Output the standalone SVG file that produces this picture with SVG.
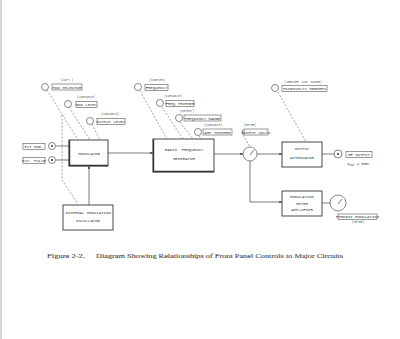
<svg xmlns="http://www.w3.org/2000/svg" width="400" height="339" viewBox="0 0 400 339">
<style>
.blk{fill:#fff;stroke:#333;stroke-width:0.9}
.lbl{fill:#fff;stroke:#555;stroke-width:0.6}
.knob{fill:#fff;stroke:#555;stroke-width:0.7}
.ln{fill:none;stroke:#444;stroke-width:0.7}
.dash{fill:none;stroke:#666;stroke-width:0.6;stroke-dasharray:2 1.6}
.t{font-family:"Liberation Mono","DejaVu Sans Mono",monospace;fill:#333;text-anchor:middle}
.s{font-size:4px}
.xs{font-size:3px;fill:#666}
.cap{font-family:"Liberation Serif","DejaVu Serif",serif;font-size:7px;fill:#555;stroke:#555;stroke-width:0.15}
</style>
<defs>
<marker id="ar" viewBox="0 0 6 6" refX="6" refY="3" markerWidth="4" markerHeight="4" orient="auto"><path d="M0,0 L6,3 L0,6 z" fill="#444"/></marker>
</defs>
<rect width="400" height="339" fill="#fff"/>
<line x1="1" y1="0" x2="1" y2="339" stroke="#ccc" stroke-width="1.5"/>

<g id="connectors">
<line class="ln" x1="108" y1="153" x2="153" y2="153" marker-end="url(#ar)"/>
<line class="ln" x1="89" y1="205" x2="89" y2="166" marker-end="url(#ar)"/>
<line class="ln" x1="55.5" y1="146" x2="69" y2="146"/>
<line class="ln" x1="55.5" y1="160" x2="69" y2="160"/>
<line class="ln" x1="214" y1="154" x2="243" y2="154" marker-end="url(#ar)"/>
<line class="ln" x1="257" y1="154" x2="282" y2="154" marker-end="url(#ar)"/>
<polyline class="ln" points="250,161 250,202 282,202" marker-end="url(#ar)"/>
<line class="ln" x1="322" y1="154" x2="334" y2="154"/>
<line class="ln" x1="322" y1="203" x2="330" y2="203"/>
<line class="dash" x1="47" y1="90" x2="78" y2="140"/>
<polyline class="dash" points="62,115 62,180 78,204"/>
<line class="dash" x1="69" y1="107" x2="90" y2="140"/>
<line class="dash" x1="92" y1="124" x2="100" y2="140"/>
<line class="dash" x1="140" y1="91" x2="167" y2="139"/>
<line class="dash" x1="162" y1="107" x2="183" y2="139"/>
<line class="dash" x1="180" y1="122" x2="193" y2="139"/>
<line class="dash" x1="199" y1="136" x2="202" y2="139"/>
<line class="dash" x1="243" y1="135" x2="250" y2="147"/>
<line class="dash" x1="278" y1="92" x2="306" y2="142"/>
</g>

<g id="mod-selector">
<circle class="knob" cx="45" cy="87" r="3.5"/>
<rect class="lbl" x="52" y="84" width="30" height="6"/>
<text class="t s" x="67" y="88.5">MOD SELECTOR</text>
<text class="t xs" x="67" y="81">(CAPY.)</text>
</g>
<g id="mod-level">
<circle class="knob" cx="68" cy="104" r="3.5"/>
<rect class="lbl" x="76" y="101.5" width="21" height="6"/>
<text class="t s" x="86.5" y="106">MOD LEVEL</text>
<text class="t xs" x="86" y="98">(VARIABLE)</text>
</g>
<g id="output-level">
<circle class="knob" cx="90" cy="121" r="3.5"/>
<rect class="lbl" x="97" y="118.5" width="28" height="6"/>
<text class="t s" x="111" y="123">OUTPUT LEVEL</text>
<text class="t xs" x="110" y="115">(VARIABLE)</text>
</g>
<g id="ext-mod">
<rect class="lbl" x="23" y="143.5" width="22" height="6"/>
<text class="t s" x="34" y="148">EXT MOD.</text>
<circle class="knob" cx="52" cy="146" r="3.5"/>
<circle cx="52" cy="146" r="1" fill="#333"/>
</g>
<g id="ext-pulse">
<rect class="lbl" x="23" y="157.5" width="22" height="6"/>
<text class="t s" x="34" y="162">EXT. PULSE</text>
<circle class="knob" cx="52" cy="160" r="3.5"/>
<circle cx="52" cy="160" r="1" fill="#333"/>
</g>
<g id="modulator">
<rect class="blk" x="69" y="140" width="39" height="26"/>
<polyline fill="none" stroke="#333" stroke-width="1.4" points="69.5,140 69.5,165.5 108,165.5"/>
<text class="t s" x="89" y="154.5">MODULATOR</text>
</g>
<g id="int-osc">
<rect class="blk" x="63" y="205" width="50" height="25"/>
<text class="t s" x="88" y="214">INTERNAL MODULATION</text>
<text class="t s" x="88" y="222">OSCILLATOR</text>
</g>

<g id="frequency">
<circle class="knob" cx="138" cy="87" r="3.5"/>
<rect class="lbl" x="145" y="84.5" width="23" height="6"/>
<text class="t s" x="156.5" y="89">FREQUENCY</text>
<text class="t xs" x="157" y="81">(INDEXED)</text>
</g>
<g id="freq-trimmer">
<circle class="knob" cx="160" cy="103" r="3.5"/>
<rect class="lbl" x="166" y="100.5" width="28" height="6"/>
<text class="t s" x="180" y="105">FREQ TRIMMER</text>
<text class="t xs" x="173" y="97">(VARIABLE)</text>
</g>
<g id="freq-range">
<circle class="knob" cx="179" cy="118" r="3.5"/>
<rect class="lbl" x="184" y="115" width="37" height="6"/>
<text class="t s" x="202.5" y="119.5">FREQUENCY RANGE</text>
<text class="t xs" x="187" y="112">(DETENT)</text>
</g>
<g id="amp-trimmer">
<circle class="knob" cx="198" cy="132" r="3.5"/>
<rect class="lbl" x="203" y="129" width="29" height="6"/>
<text class="t s" x="217.5" y="133.5">AMP TRIMMER</text>
<text class="t xs" x="213" y="126">(VARIABLE)</text>
</g>
<g id="rf-generator">
<rect class="blk" x="153" y="139" width="61" height="33"/>
<polyline fill="none" stroke="#333" stroke-width="1.4" points="153.5,139 153.5,171.5 214,171.5"/>
<text class="t s" x="184" y="150.5" font-size="4.5" xml:space="preserve">RADIO  FREQUENCY</text>
<text class="t s" x="184" y="159.5" font-size="4.5">GENERATOR</text>
</g>
<g id="output-volts">
<path d="M243,129.5 q-2,2.5 0,5" class="knob"/>
<rect class="lbl" x="244" y="129" width="24" height="6"/>
<text class="t s" x="256" y="133.5">OUTPUT VOLTS</text>
<text class="t xs" x="250" y="126">(METER)</text>
</g>
<g id="rf-meter">
<circle class="knob" cx="250" cy="154" r="7" stroke="#333" stroke-width="0.9"/>
<line x1="250" y1="155" x2="254" y2="150" stroke="#333" stroke-width="0.7"/>
</g>

<g id="microvolts">
<circle class="knob" cx="275" cy="88" r="3.5"/>
<rect class="lbl" x="282" y="85.5" width="45" height="6"/>
<text class="t s" x="304.5" y="90">MICROVOLTS MEGOHMS</text>
<text class="t xs" x="303" y="82.5" xml:space="preserve">(VERNIER  AND  RANGE)</text>
</g>
<g id="output-attenuator">
<rect class="blk" x="282" y="142" width="40" height="25"/>
<text class="t s" x="302" y="150">OUTPUT</text>
<text class="t s" x="302" y="159">ATTENUATOR</text>
</g>
<g id="rf-output">
<circle class="knob" cx="338" cy="154" r="4" stroke="#333"/>
<circle cx="338" cy="154" r="1" fill="#333"/>
<rect class="lbl" x="346" y="151.5" width="26" height="6"/>
<text class="t s" x="359" y="156">RF OUTPUT</text>
<text class="t s" x="358" y="165">Z<tspan font-size="2.6" dy="1">out</tspan><tspan dy="-1"> = 50Ω</tspan></text>
</g>
<g id="mod-meter-amp">
<rect class="blk" x="282" y="191" width="40" height="25"/>
<text class="t s" x="302" y="198">MODULATION</text>
<text class="t s" x="302" y="204.5">METER</text>
<text class="t s" x="302" y="211">AMPLIFIER</text>
</g>
<g id="percent-mod">
<circle class="knob" cx="338" cy="203" r="8" stroke="#333" stroke-width="0.9"/>
<line x1="338" y1="204" x2="342" y2="199" stroke="#333" stroke-width="0.7"/>
<rect class="lbl" x="338" y="214" width="39" height="5.5"/>
<text class="t s" x="357.5" y="218.2">PERCENT MODULATION</text>
<text class="t xs" x="358" y="223">(METER)</text>
</g>

<text class="cap" x="47" y="258" textLength="38" lengthAdjust="spacingAndGlyphs">Figure 2-2.</text>
<text class="cap" x="96" y="258" textLength="247" lengthAdjust="spacingAndGlyphs">Diagram Showing Relationships of Front Panel Controls to Major Circuits</text>
</svg>
